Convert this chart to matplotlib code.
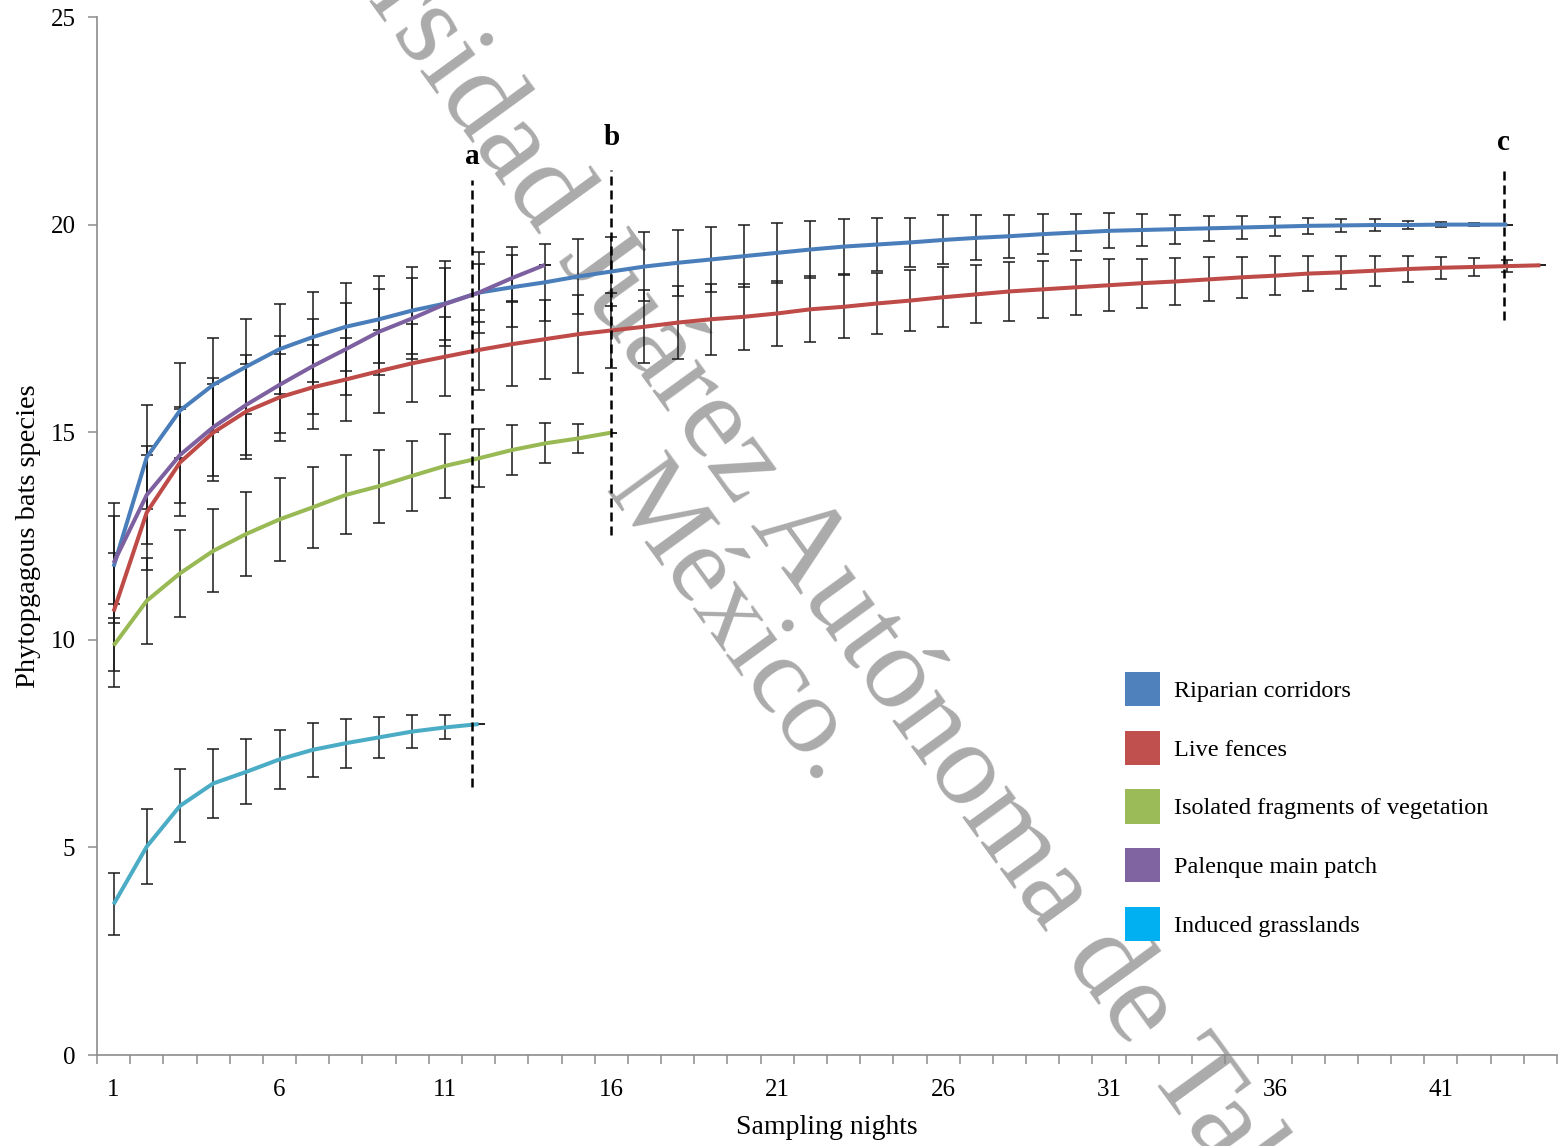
import matplotlib
matplotlib.use("Agg")
import matplotlib.pyplot as plt
from matplotlib.patches import Patch
import numpy as np

# ---------------- data ----------------
series_names = ["Riparian corridors", "Live fences", "Isolated fragments of vegetation",
                "Palenque main patch", "Induced grasslands"]

riparian_mean = [11.76, 14.40, 15.52, 16.14, 16.58, 17.00, 17.29, 17.54, 17.72, 17.93,
                 18.10, 18.36, 18.49, 18.61, 18.75, 18.87, 18.99, 19.08, 19.16, 19.24,
                 19.32, 19.40, 19.47, 19.52, 19.57, 19.63, 19.68, 19.72, 19.77, 19.81,
                 19.85, 19.87, 19.89, 19.91, 19.93, 19.95, 19.97, 19.98, 19.99, 19.99,
                 20.00, 20.00, 20.00]
riparian_err = [1.23, 1.26, 1.14, 1.14, 1.14, 1.08, 1.09, 1.06, 1.05, 1.05,
                1.02, 0.97, 0.96, 0.92, 0.90, 0.84, 0.82, 0.79, 0.79, 0.75,
                0.72, 0.68, 0.67, 0.63, 0.60, 0.59, 0.54, 0.52, 0.48, 0.44,
                0.42, 0.38, 0.35, 0.30, 0.27, 0.23, 0.20, 0.16, 0.14, 0.10,
                0.06, 0.03, 0.0]

fences_mean = [10.68, 13.07, 14.27, 14.99, 15.50, 15.84, 16.08, 16.27, 16.47, 16.66,
               16.82, 16.98, 17.12, 17.24, 17.36, 17.45, 17.54, 17.64, 17.72, 17.78,
               17.86, 17.96, 18.02, 18.10, 18.17, 18.25, 18.32, 18.39, 18.44, 18.49,
               18.54, 18.59, 18.63, 18.68, 18.73, 18.77, 18.82, 18.85, 18.89, 18.93,
               18.96, 18.98, 19.00, 19.02]
fences_err = [1.42, 1.39, 1.30, 1.16, 1.15, 1.05, 1.01, 0.99, 1.00, 0.94,
              0.96, 0.96, 1.01, 0.95, 0.94, 0.91, 0.88, 0.88, 0.86, 0.80,
              0.79, 0.79, 0.76, 0.73, 0.73, 0.72, 0.70, 0.70, 0.68, 0.66,
              0.63, 0.59, 0.56, 0.53, 0.49, 0.47, 0.43, 0.39, 0.36, 0.31,
              0.27, 0.22, 0.15, 0.0]

fragments_mean = [9.86, 10.94, 11.60, 12.14, 12.55, 12.90, 13.19, 13.49, 13.70, 13.95,
                  14.19, 14.37, 14.57, 14.73, 14.85, 14.99]
fragments_err = [1.00, 1.04, 1.04, 1.00, 1.02, 1.00, 0.97, 0.95, 0.88, 0.84,
                 0.77, 0.70, 0.61, 0.48, 0.35, 0.0]

palenque_mean = [11.85, 13.49, 14.45, 15.12, 15.66, 16.14, 16.59, 17.00, 17.42, 17.74,
                 18.09, 18.36, 18.71, 19.03]
palenque_err = [1.45, 1.18, 1.15, 1.18, 1.20, 1.17, 1.14, 1.10, 1.04, 0.97,
                0.86, 0.70, 0.55, 0.0]

grass_mean = [3.63, 5.02, 6.00, 6.54, 6.82, 7.12, 7.35, 7.51, 7.65, 7.79, 7.89, 7.97]
grass_err = [0.75, 0.90, 0.88, 0.82, 0.78, 0.71, 0.65, 0.59, 0.50, 0.39, 0.29, 0.0]

# dashed markers (night, label)
marker_nights = [11.8, 16.0, 42.9]
marker_labels = ["a", "b", "c"]
marker_bottom = [6.45, 12.52, 17.7]
marker_top = [21.07, 21.31, 21.31]
marker_label_y = [21.63, 22.09, 21.97]

xtick_labels = [1, 6, 11, 16, 21, 26, 31, 36, 41]
ytick_values = [0, 5, 10, 15, 20, 25]

watermark_lines = ["Universidad Juárez Autónoma de Tabasco.", "México."]

line_colors = ["#4A7EBB", "#BE4B48", "#98B954", "#7D60A0", "#4BACC6"]
legend_colors = ["#4F81BD", "#C0504D", "#9BBB59", "#8064A2", "#00B0F0"]

serif = ["Liberation Serif", "DejaVu Serif"]

# ---------------- figure ----------------
W, H = 1558, 1146
fig = plt.figure(figsize=(W / 100, H / 100), dpi=100)
fig.patch.set_facecolor("white")
ax = fig.add_axes([97 / W, 1 - 1055 / H, 1460 / W, 1038 / H])
ax.set_facecolor("none")

# watermark (behind the data)
wm_pos = [(794, 587), (711, 640)]
wm_size = [86, 80]
for txt, (px, py), fs in zip(watermark_lines, wm_pos, wm_size):
    fig.text(px / W, 1 - py / H, txt, rotation=-54, rotation_mode="anchor",
             ha="center", va="baseline", fontsize=fs, color="#ababab",
             family=serif, zorder=-5)

means = [riparian_mean, fences_mean, fragments_mean, palenque_mean, grass_mean]
errs = [riparian_err, fences_err, fragments_err, palenque_err, grass_err]

for m, e in zip(means, errs):
    x = np.arange(1, len(m) + 1)
    ax.errorbar(x, m, yerr=e, fmt="none", ecolor="#1a1a1a", elinewidth=1.1,
                capsize=4.2, capthick=1.1, zorder=2)
for m, c in zip(means, line_colors):
    x = np.arange(1, len(m) + 1)
    ax.plot(x, m, color=c, lw=2.9, solid_capstyle="butt", zorder=3)

for xn, lab, yb, yt, yl in zip(marker_nights, marker_labels, marker_bottom,
                               marker_top, marker_label_y):
    ax.plot([xn, xn], [yb, yt], color="black", lw=1.8,
            linestyle=(0, (3.6, 2.0)), zorder=4)
    ax.text(xn, yl, lab, ha="center", va="center", fontsize=21,
            fontweight="bold", family=serif, zorder=5)

ax.set_xlim(0.5, 44.5)
ax.set_ylim(0, 25)

for s in ["top", "right"]:
    ax.spines[s].set_visible(False)
for s in ["left", "bottom"]:
    ax.spines[s].set_color("#8c8c8c")
    ax.spines[s].set_linewidth(1.2)

ax.set_xticks(xtick_labels)
ax.set_xticklabels([str(v) for v in xtick_labels], family=serif, fontsize=18)
ax.set_xticks(np.arange(0.5, 45.0, 1.0), minor=True)
ax.tick_params(axis="x", which="major", length=0, pad=17)
ax.tick_params(axis="x", which="minor", length=6.5, width=1.1, color="#8c8c8c",
               direction="out")

ax.set_yticks(ytick_values)
ax.set_yticklabels([str(v) for v in ytick_values], family=serif, fontsize=18)
ax.tick_params(axis="y", which="major", length=6.5, width=1.1, color="#8c8c8c",
               direction="out", pad=9)

ax.text(0.5, -0.0694, "Sampling nights", transform=ax.transAxes, ha="center",
        va="center", fontsize=20, family=serif)
ax.text(-0.047, 0.5, "Phytopgagous bats species", transform=ax.transAxes,
        ha="center", va="center", rotation=90, fontsize=20.5, family=serif)

handles = [Patch(facecolor=c, edgecolor="none") for c in legend_colors]
leg = fig.legend(handles, series_names, loc="upper left",
                 bbox_to_anchor=(1125 / W, 1 - 672 / H),
                 frameon=False, borderpad=0, borderaxespad=0,
                 handlelength=1.45, handleheight=1.8, handletextpad=0.55,
                 labelspacing=1.0, prop={"family": serif, "size": 17.5})

fig.savefig("out.png", dpi=100, facecolor="white")
